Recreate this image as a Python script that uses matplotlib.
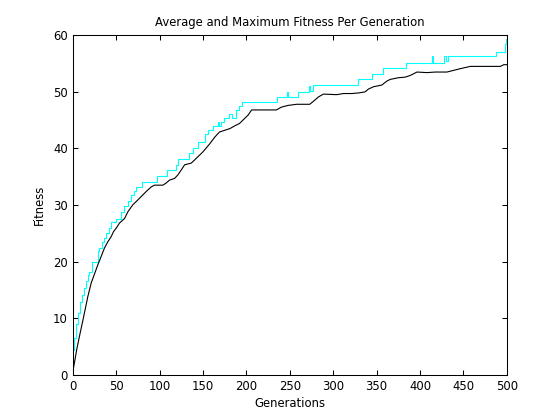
import matplotlib
matplotlib.use("Agg")
import matplotlib.pyplot as plt

# Maximum fitness (step changes)
gen_max = [0, 1, 3.5, 6.5, 8.5, 10.5, 13, 15, 17, 19,
           22, 28.5, 30.5, 33.5, 36, 38.5, 41.5, 44, 50, 55.5,
           59.5, 63.5, 67, 70, 73, 80, 97, 108.5, 118.5, 121,
           133.5, 138.5, 144.5, 152, 156, 161, 167.5, 169, 171, 174,
           180, 183, 188, 192, 194.5, 235, 246.5, 247.5, 259, 272,
           273.5, 277, 328, 344.5, 357, 384, 414, 415.5, 428, 430.5,
           432, 487.5, 498.5, 499.5, 500]
fit_max = [4.4, 6.5, 9.0, 10.9, 12.9, 14.1, 15.3, 16.5, 17.6, 18.2,
           20.0, 21.8, 22.4, 23.5, 24.1, 25.0, 26.0, 26.9, 27.6, 28.8,
           29.9, 30.7, 31.8, 32.5, 33.2, 34.1, 35.1, 36.2, 37.1, 38.1,
           39.2, 40.1, 41.2, 42.5, 43.2, 43.9, 44.7, 43.9, 44.7, 45.3,
           46.1, 45.3, 46.8, 47.5, 48.2, 49.1, 50.0, 49.1, 50.0, 51.1,
           50.2, 51.2, 52.2, 53.2, 54.2, 55.1, 56.3, 55.1, 56.3, 55.4,
           56.3, 57.1, 58.5, 59.3, 59.3]

# Average fitness
gen_avg = [0, 2, 4.6, 7.7, 11.5, 14.6, 17.3, 21.2, 25, 28.8,
           32.7, 36.5, 40.4, 44.2, 47, 50, 53.8, 59.6, 63.5, 69,
           75, 80.8, 85.4, 90.4, 94.2, 103.8, 107.7, 111.5, 117.3, 121,
           125, 128.8, 136.5, 142, 150, 157.7, 163.6, 169, 175, 181,
           186.7, 192, 198, 202, 206, 219, 234.6, 240.4, 248, 258,
           273, 277, 283, 288.7, 304, 311.8, 321.4, 329, 336.8, 340.7,
           346.4, 356, 361.8, 365.7, 375.3, 383, 388.8, 396.5, 408, 417.7,
           431, 438.8, 446.5, 458, 469.6, 485, 492.6, 496.5, 500]
fit_avg = [0.5, 2.2, 4.5, 6.8, 9.5, 11.8, 13.8, 16.2, 17.8, 19.4,
           20.9, 22.4, 23.5, 24.4, 25.3, 25.9, 26.8, 27.6, 28.8, 30.0,
           30.9, 31.8, 32.5, 33.2, 33.5, 33.5, 33.9, 34.4, 34.7, 35.3,
           36.2, 37.1, 37.4, 38.2, 39.4, 40.8, 42.0, 42.9, 43.2, 43.5,
           44.0, 44.4, 45.3, 45.9, 46.8, 46.8, 46.8, 47.3, 47.6, 47.8,
           47.8, 48.3, 49.1, 49.6, 49.5, 49.7, 49.7, 49.8, 50.0, 50.5,
           50.9, 51.2, 51.9, 52.2, 52.5, 52.6, 52.9, 53.5, 53.4, 53.5,
           53.5, 53.8, 54.1, 54.5, 54.5, 54.5, 54.5, 54.8, 54.8]

x_ticks = [0, 50, 100, 150, 200, 250, 300, 350, 400, 450, 500]
y_ticks = [0, 10, 20, 30, 40, 50, 60]

plt.rcParams['font.family'] = ['DejaVu Sans']
fs = 8.4

fig = plt.figure(figsize=(5.6, 4.2), dpi=100)
ax = fig.add_axes([0.13, 0.108, 0.775, 0.808])
ax.plot(gen_max, fit_max, color='#00FFFF', lw=0.8, drawstyle='steps-post')
ax.plot(gen_avg, fit_avg, color='black', lw=0.8)

ax.set_xlim(0, 500)
ax.set_ylim(0, 60)
ax.set_xticks(x_ticks)
ax.set_yticks(y_ticks)
ax.tick_params(direction='in', top=True, right=True, length=3.5, width=0.75,
               labelsize=fs, pad=3.5)
for s in ax.spines.values():
    s.set_linewidth(0.75)
ax.set_title('Average and Maximum Fitness Per Generation', fontsize=fs, pad=7)
ax.set_xlabel('Generations', fontsize=fs, labelpad=3)
ax.set_ylabel('Fitness', fontsize=fs, labelpad=5)

fig.savefig('out.png', dpi=100, facecolor='white')
